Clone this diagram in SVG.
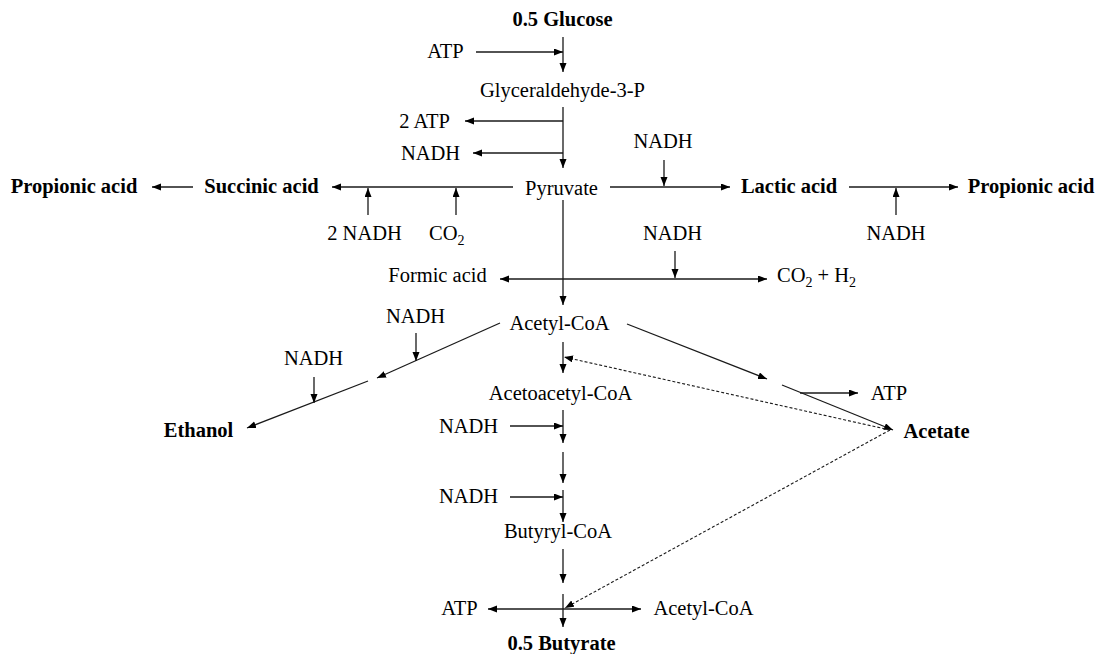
<svg xmlns="http://www.w3.org/2000/svg" width="1111" height="654" viewBox="0 0 1111 654">
<style>
text{font-family:"Liberation Serif","Times New Roman",serif;font-size:20.5px;fill:#000;text-anchor:middle}
.b{font-weight:bold}
.s{text-anchor:start}
.l{stroke:#1a1a1a;stroke-width:1.3;fill:none}
.a{marker-end:url(#ah)}
.d{stroke-dasharray:3,2;stroke-width:1.1}
</style>
<defs>
<marker id="ah" markerUnits="userSpaceOnUse" markerWidth="10" markerHeight="8" refX="9" refY="3.5" orient="auto">
<path d="M0,0 L9,3.5 L0,7 z" fill="#000"/>
</marker>
</defs>
<rect width="1111" height="654" fill="#fff"/>
<g id="connectors">
<line class="l a" x1="563" y1="37" x2="563" y2="72"/>
<line class="l a" x1="476" y1="52" x2="563" y2="52"/>
<line class="l a" x1="563" y1="107" x2="563" y2="168"/>
<line class="l a" x1="563" y1="121" x2="465" y2="121"/>
<line class="l a" x1="563" y1="153" x2="473" y2="153"/>
<line class="l a" x1="610" y1="187" x2="730" y2="187"/>
<line class="l a" x1="664" y1="160" x2="664" y2="186"/>
<line class="l a" x1="849" y1="187" x2="958" y2="187"/>
<line class="l a" x1="896" y1="215" x2="896" y2="188"/>
<line class="l a" x1="513" y1="187" x2="332" y2="187"/>
<line class="l a" x1="368" y1="215" x2="368" y2="188"/>
<line class="l a" x1="456" y1="215" x2="456" y2="188"/>
<line class="l a" x1="193" y1="187" x2="152" y2="187"/>
<line class="l a" x1="563" y1="200" x2="563" y2="305"/>
<line class="l a" x1="563" y1="279" x2="500" y2="279"/>
<line class="l a" x1="563" y1="279" x2="767" y2="279"/>
<line class="l a" x1="675" y1="251" x2="675" y2="278"/>
<line class="l a" x1="500" y1="323" x2="377" y2="378"/>
<line class="l a" x1="368" y1="381" x2="247" y2="428"/>
<line class="l a" x1="416" y1="333" x2="416" y2="361"/>
<line class="l a" x1="314" y1="377" x2="314" y2="403"/>
<line class="l a" x1="563" y1="342" x2="563" y2="373"/>
<line class="l a" x1="627" y1="324" x2="767" y2="379"/>
<line class="l a" x1="782" y1="385" x2="893" y2="430"/>
<line class="l a" x1="800" y1="393" x2="858" y2="393"/>
<line class="l a d" x1="890" y1="430" x2="564" y2="357"/>
<line class="l a d" x1="890" y1="430" x2="565" y2="608"/>
<line class="l a" x1="563" y1="410" x2="563" y2="443"/>
<line class="l a" x1="510" y1="426" x2="563" y2="426"/>
<line class="l a" x1="563" y1="452" x2="563" y2="483"/>
<line class="l a" x1="510" y1="497" x2="563" y2="497"/>
<line class="l a" x1="563" y1="490" x2="563" y2="522"/>
<line class="l a" x1="563" y1="549" x2="563" y2="583"/>
<line class="l a" x1="563" y1="594" x2="563" y2="627"/>
<line class="l a" x1="563" y1="609" x2="488" y2="609"/>
<line class="l a" x1="563" y1="609" x2="641" y2="609"/>
</g>
<g id="glucose"><text class="b" x="562.5" y="26">0.5 Glucose</text></g>
<g id="atp1"><text x="445.5" y="58">ATP</text></g>
<g id="g3p"><text x="562.5" y="97">Glyceraldehyde-3-P</text></g>
<g id="atp2"><text x="424.5" y="128">2 ATP</text></g>
<g id="nadh1"><text x="430.5" y="160">NADH</text></g>
<g id="nadh2"><text x="663" y="148">NADH</text></g>
<g id="pyruvate"><text x="561.5" y="195">Pyruvate</text></g>
<g id="lactic"><text class="b" x="789" y="193">Lactic acid</text></g>
<g id="propionic-r"><text class="b" x="1031" y="193">Propionic acid</text></g>
<g id="propionic-l"><text class="b" x="74" y="193">Propionic acid</text></g>
<g id="succinic"><text class="b" x="261.5" y="193">Succinic acid</text></g>
<g id="nadh3"><text x="364.5" y="240">2 NADH</text></g>
<g id="co2"><text class="s" x="429" y="240">CO<tspan font-size="14" dy="5">2</tspan></text></g>
<g id="nadh4"><text x="672.5" y="240">NADH</text></g>
<g id="nadh5"><text x="896" y="240">NADH</text></g>
<g id="formic"><text x="437.5" y="282">Formic acid</text></g>
<g id="co2h2"><text class="s" x="777" y="282">CO<tspan font-size="14" dy="5">2</tspan><tspan dy="-5"> + H</tspan><tspan font-size="14" dy="5">2</tspan></text></g>
<g id="acetylcoa"><text x="559.5" y="330">Acetyl-CoA</text></g>
<g id="nadh6"><text x="415.5" y="323">NADH</text></g>
<g id="nadh7"><text x="313.5" y="365">NADH</text></g>
<g id="acetoacetyl"><text x="560.5" y="400">Acetoacetyl-CoA</text></g>
<g id="atp3"><text x="889" y="400">ATP</text></g>
<g id="ethanol"><text class="b" x="198.5" y="437">Ethanol</text></g>
<g id="acetate"><text class="b" x="936.5" y="438">Acetate</text></g>
<g id="nadh8"><text x="468.5" y="433">NADH</text></g>
<g id="nadh9"><text x="468.5" y="503">NADH</text></g>
<g id="butyryl"><text x="558" y="538">Butyryl-CoA</text></g>
<g id="atp4"><text x="459.5" y="615">ATP</text></g>
<g id="acetylcoa2"><text x="703.5" y="615">Acetyl-CoA</text></g>
<g id="butyrate"><text class="b" x="561.5" y="650">0.5 Butyrate</text></g>
</svg>
